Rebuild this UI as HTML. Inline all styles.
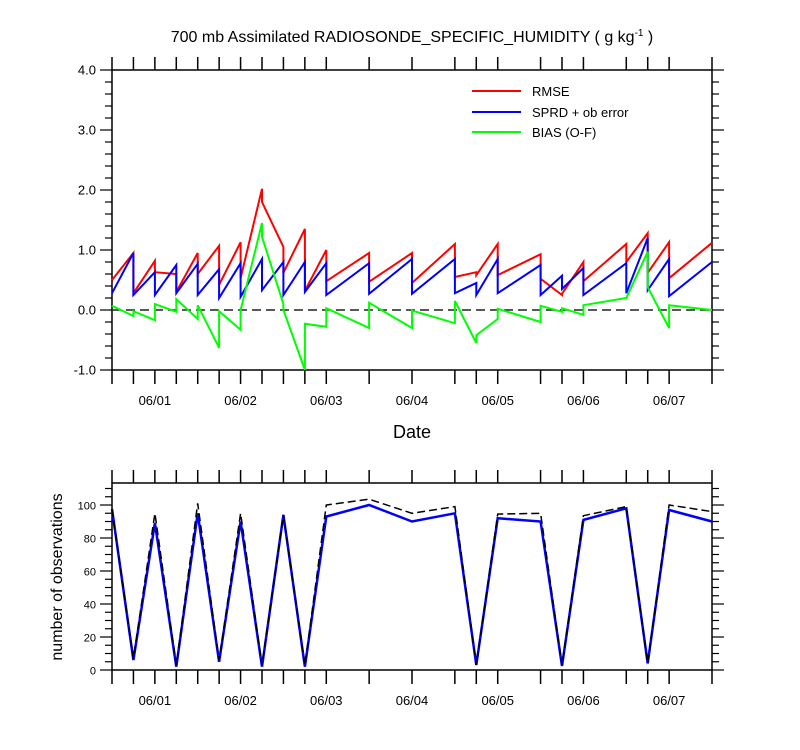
<!DOCTYPE html>
<html><head><meta charset="utf-8"><style>
html,body{margin:0;padding:0;background:#fff;}
svg{display:block;font-family:"Liberation Sans",Arial,sans-serif;}
</style></head><body>
<svg id="chart" width="800" height="750" viewBox="0 0 800 750">
<text x="412" y="42" font-size="16" text-anchor="middle">700 mb Assimilated RADIOSONDE_SPECIFIC_HUMIDITY ( g kg<tspan dy="-6" font-size="10">-1</tspan><tspan dy="6"> )</tspan></text>
<g id="topPanel"></g>
<g id="botPanel"></g>
<text x="412" y="438" font-size="18" text-anchor="middle">Date</text>
<text transform="translate(62,577) rotate(-90)" font-size="16" text-anchor="middle">number of observations</text>
<g>
<line x1="472" y1="91" x2="521" y2="91" stroke="#ff0000" stroke-width="2"/>
<text x="532" y="96" font-size="13">RMSE</text>
<line x1="472" y1="112" x2="521" y2="112" stroke="#0000ff" stroke-width="2"/>
<text x="532" y="117" font-size="13">SPRD + ob error</text>
<line x1="472" y1="132" x2="521" y2="132" stroke="#00ff00" stroke-width="2"/>
<text x="532" y="137" font-size="13">BIAS (O-F)</text>
</g>
</svg>
<script>
// time index in 6-hour steps from 05/31 12Z
const pathTimes = [0,1,1,2,2,3,3,4,4,5,5,6,6,7,7,8,8,9,9,10,10,12,12,14,14,16,16,17,17,18,18,20,20,21,21,22,22,24,24,25,25,26,26,28];
const rmseValues = [0.5,0.95,0.28,0.82,0.63,0.6,0.3,0.95,0.6,1.07,0.42,1.13,0.53,2.02,1.8,1.05,0.62,1.35,0.32,1.0,0.48,0.95,0.47,0.95,0.45,1.1,0.55,0.63,0.58,1.1,0.58,0.93,0.52,0.25,0.27,0.8,0.48,1.1,0.8,1.28,0.62,1.13,0.53,1.12];
const sprdValues = [0.28,0.95,0.25,0.63,0.25,0.75,0.28,0.77,0.25,0.68,0.2,0.78,0.22,0.85,0.33,0.8,0.25,0.8,0.3,0.78,0.25,0.78,0.27,0.85,0.27,0.85,0.28,0.45,0.25,0.85,0.28,0.75,0.25,0.57,0.35,0.7,0.25,0.78,0.28,1.2,0.33,0.85,0.23,0.8];
const biasValues = [0.07,-0.1,-0.02,-0.17,0.1,-0.03,0.18,-0.15,0.08,-0.63,-0.02,-0.33,0.0,1.45,1.22,0.1,0.0,-1.0,-0.23,-0.28,0.03,-0.3,0.12,-0.3,-0.01,-0.22,0.15,-0.55,-0.42,-0.15,0.02,-0.2,0.07,-0.03,0.03,-0.08,0.08,0.2,0.2,0.97,0.38,-0.3,0.08,0.0];
const obsTimes = [0,1,2,3,4,5,6,7,8,9,10,12,14,16,17,18,20,21,22,24,25,26,28];
const obsUsed = [97.6,6,89,2,95,5,90,2,94,2,93,100,90,95,3,92,90,2.5,91,98,4,97,90];
const obsPossible = [97.6,7,95,3,101,6,95,3,94,3,100,103.5,95,99,3,94.5,95,3,93.5,99,4,100,96];
const dateLabels = ["06/01","06/02","06/03","06/04","06/05","06/06","06/07"];
const dateTimes = [2,6,10,14,18,22,26];
const topTicks = ["-1.0","0.0","1.0","2.0","3.0","4.0"];
const topTickVals = [-1,0,1,2,3,4];
const botTicks = ["0","20","40","60","80","100"];
const botTickVals = [0,20,40,60,80,100];

const NS="http://www.w3.org/2000/svg";
const X0=112,X1=712;
const xs = t => X0 + (X1-X0)*t/28;
const yTop = v => 310 - 60*v;
const yBot = v => 670 - 1.65*v;
function mk(parent,tag,attrs){const e=document.createElementNS(NS,tag);for(const k in attrs)e.setAttribute(k,attrs[k]);parent.appendChild(e);return e;}

function axes(g,yT,yB,yMinorStep,yMin,yMax,yfun,labels,vals,labelSize,name){
  const fr=mk(g,'rect',{x:X0,y:yT,width:X1-X0,height:yB-yT,fill:'none',stroke:'#000','stroke-width':1.5});
  
  
  obsTimes.forEach(t=>{
    const x=xs(t);
    const a=mk(g,'line',{x1:x,y1:yT,x2:x,y2:yT-13,stroke:'#000','stroke-width':1.5});
    
    
    const b=mk(g,'line',{x1:x,y1:yB,x2:x,y2:yB+14,stroke:'#000','stroke-width':1.5});
    
    
  });
  const n=Math.round((yMax-yMin)/yMinorStep);
  for(let i=0;i<=n;i++){
    const v=yMin+i*yMinorStep;
    const y=yfun(v);
    const major = vals.some(m=>Math.abs(m-v)<1e-6);
    const len = major?12:7;
    const l=mk(g,'line',{x1:X0-len,y1:y,x2:X0,y2:y,stroke:'#000','stroke-width':1.2});
    
    
    const r=mk(g,'line',{x1:X1,y1:y,x2:X1+len,y2:y,stroke:'#000','stroke-width':1.2});
    
    
  }
  labels.forEach((s,i)=>{
    const t=mk(g,'text',{x:X0-16,y:yfun(vals[i])+4.5,'font-size':labelSize,'text-anchor':'end'});
    t.textContent=s;
    
    
  });
  dateLabels.forEach((s,i)=>{
    const t=mk(g,'text',{x:xs(dateTimes[i]),y:yB+35,'font-size':13,'text-anchor':'middle'});
    t.textContent=s;
    
    
  });
}
function drawLine(g,times,vals,yfun,color,w,dash,name){
  const pts=times.map((t,i)=>xs(t).toFixed(1)+','+yfun(vals[i]).toFixed(1)).join(' ');
  const p=mk(g,'polyline',{points:pts,fill:'none',stroke:color,'stroke-width':w,'stroke-linejoin':'miter'});
  if(dash)p.setAttribute('stroke-dasharray',dash);
  
  
}
const topPanel=document.getElementById('topPanel');
const botPanel=document.getElementById('botPanel');
axes(topPanel,70,370,0.2,-1,4,yTop,topTicks,topTickVals,13,'top');
axes(botPanel,483,670,5,0,110,yBot,botTicks,botTickVals,11,'bottom');
const zl=mk(topPanel,'line',{x1:X0,y1:yTop(0),x2:X1,y2:yTop(0),stroke:'#222','stroke-width':1.5,'stroke-dasharray':'9,5'});


drawLine(topPanel,pathTimes,rmseValues,yTop,'#ff0000',2,null,'rmse-line');
drawLine(topPanel,pathTimes,sprdValues,yTop,'#0000ff',2,null,'sprd-line');
drawLine(topPanel,pathTimes,biasValues,yTop,'#00ff00',2,null,'bias-line');
drawLine(botPanel,obsTimes,obsUsed,yBot,'#0000ff',2.5,null,'obs-used-line');
drawLine(botPanel,obsTimes,obsPossible,yBot,'#000',1.5,'8,4','obs-possible-line');
</script>
</body></html>
